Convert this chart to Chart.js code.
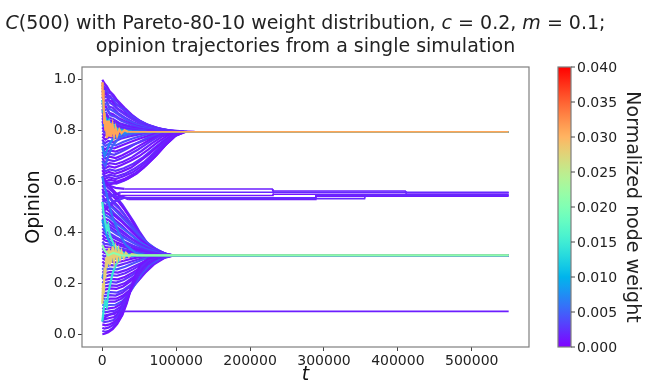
<!DOCTYPE html>
<html>
<head>
<meta charset="utf-8">
<script src="https://cdn.jsdelivr.net/npm/chart.js@4.4.1/dist/chart.umd.min.js"></script>
<style>
  html, body { margin: 0; padding: 0; background: #fff; }
  #wrap { width: 649px; height: 381px; }
</style>
</head>
<body>
<div id="wrap"><canvas id="chart" width="649" height="381"></canvas></div>
<script>
// axis ticks
const tickT = [0, 100000, 200000, 300000, 400000, 500000];
const tickOpinion = [0, 0.2, 0.4, 0.6, 0.8, 1.0];
const tickWeight = [0, 0.005, 0.01, 0.015, 0.02, 0.025, 0.03, 0.035, 0.04];
const weightMax = 0.04;

// trajectories: pairs of (t in thousands, opinion)
// nodes that end in the upper cluster (~0.795)
const groupHigh = [
  [0,1.0, 3,0.985, 6,0.975, 10,0.955, 15,0.94, 20,0.92, 30,0.89, 40,0.862, 50,0.84, 60,0.825, 75,0.81, 90,0.801, 110,0.797, 125,0.795, 550,0.795],
  [0,0.99, 2,0.975, 5,0.968, 8,0.95, 12,0.945, 18,0.92, 25,0.9, 35,0.872, 47,0.845, 60,0.824, 75,0.809, 92,0.8, 115,0.795, 550,0.795],
  [0,0.98, 2,0.96, 4,0.965, 7,0.94, 11,0.935, 16,0.91, 24,0.895, 33,0.87, 44,0.848, 56,0.828, 72,0.81, 90,0.8, 110,0.795, 550,0.795],
  [0,0.968, 3,0.95, 6,0.955, 9,0.93, 14,0.925, 20,0.9, 28,0.885, 38,0.86, 50,0.838, 64,0.82, 80,0.806, 100,0.797, 115,0.795, 550,0.795],
  [0,0.957, 2,0.94, 5,0.945, 8,0.92, 13,0.915, 19,0.89, 27,0.875, 37,0.852, 50,0.832, 65,0.815, 82,0.803, 105,0.795, 550,0.795],
  [0,0.945, 3,0.93, 7,0.935, 10,0.91, 15,0.9, 22,0.88, 32,0.86, 44,0.84, 58,0.82, 75,0.806, 95,0.798, 110,0.795, 550,0.795],
  [0,0.933, 2,0.915, 5,0.92, 9,0.895, 14,0.89, 21,0.87, 30,0.852, 42,0.833, 56,0.817, 74,0.804, 95,0.795, 550,0.795],
  [0,0.921, 3,0.9, 6,0.91, 10,0.885, 16,0.875, 24,0.858, 34,0.84, 47,0.824, 62,0.81, 82,0.8, 100,0.795, 550,0.795],
  [0,0.909, 2,0.89, 5,0.895, 9,0.87, 14,0.865, 22,0.85, 32,0.835, 45,0.82, 62,0.807, 85,0.798, 100,0.795, 550,0.795],
  [0,0.897, 3,0.88, 7,0.885, 11,0.86, 17,0.855, 25,0.84, 36,0.826, 50,0.813, 70,0.802, 95,0.795, 550,0.795],
  [0,0.885, 2,0.865, 5,0.87, 9,0.85, 15,0.845, 23,0.83, 34,0.82, 50,0.808, 72,0.8, 92,0.795, 550,0.795],
  [0,0.873, 3,0.855, 6,0.86, 10,0.84, 16,0.835, 25,0.822, 38,0.812, 55,0.803, 80,0.795, 550,0.795],
  [0,0.861, 2,0.845, 6,0.85, 11,0.83, 18,0.828, 28,0.815, 42,0.806, 62,0.799, 85,0.795, 550,0.795],
  [0,0.849, 3,0.83, 7,0.838, 12,0.82, 20,0.818, 32,0.808, 48,0.8, 70,0.795, 550,0.795],
  [0,0.837, 2,0.82, 6,0.828, 12,0.81, 20,0.812, 35,0.802, 55,0.797, 75,0.795, 550,0.795],
  [0,0.825, 3,0.81, 8,0.818, 14,0.8, 24,0.805, 40,0.798, 60,0.795, 550,0.795],
  [0,0.813, 3,0.8, 8,0.81, 15,0.795, 25,0.8, 45,0.795, 550,0.795],
  [0,0.801, 4,0.79, 9,0.8, 16,0.788, 28,0.793, 50,0.795, 550,0.795],
  [0,0.789, 3,0.78, 8,0.792, 15,0.78, 25,0.788, 45,0.795, 550,0.795],
  [0,0.777, 4,0.765, 9,0.775, 17,0.77, 28,0.78, 42,0.787, 60,0.795, 550,0.795],
  [0,0.765, 3,0.75, 8,0.76, 15,0.755, 25,0.768, 38,0.778, 55,0.788, 72,0.795, 550,0.795],
  [0,0.753, 4,0.74, 9,0.748, 18,0.742, 28,0.755, 40,0.768, 56,0.782, 75,0.795, 550,0.795],
  [0,0.741, 3,0.725, 8,0.735, 16,0.73, 26,0.742, 38,0.755, 52,0.77, 68,0.785, 85,0.795, 550,0.795],
  [0,0.729, 4,0.715, 10,0.722, 18,0.718, 29,0.73, 42,0.745, 57,0.762, 73,0.78, 88,0.795, 550,0.795],
  [0,0.717, 3,0.7, 8,0.71, 16,0.705, 24,0.715, 34,0.73, 46,0.75, 60,0.77, 75,0.787, 90,0.795, 550,0.795],
  [0,0.705, 4,0.69, 10,0.698, 18,0.692, 27,0.703, 38,0.72, 51,0.742, 65,0.765, 80,0.785, 94,0.795, 550,0.795],
  [0,0.693, 3,0.675, 8,0.685, 16,0.68, 25,0.69, 36,0.705, 48,0.725, 62,0.752, 76,0.777, 90,0.792, 100,0.795, 550,0.795],
  [0,0.681, 4,0.665, 10,0.672, 18,0.668, 28,0.678, 40,0.695, 53,0.72, 67,0.75, 81,0.777, 95,0.793, 104,0.795, 550,0.795],
  [0,0.669, 3,0.65, 9,0.66, 17,0.655, 26,0.665, 37,0.68, 50,0.7, 62,0.725, 75,0.755, 89,0.782, 102,0.795, 550,0.795],
  [0,0.657, 4,0.64, 10,0.648, 18,0.642, 29,0.652, 42,0.67, 55,0.695, 69,0.728, 83,0.762, 97,0.787, 107,0.795, 550,0.795],
  [0,0.645, 3,0.63, 9,0.638, 17,0.63, 27,0.64, 39,0.655, 51,0.68, 64,0.71, 78,0.745, 92,0.778, 105,0.795, 550,0.795],
  [0,0.633, 4,0.62, 10,0.627, 19,0.62, 30,0.63, 42,0.648, 56,0.675, 69,0.71, 83,0.75, 97,0.782, 110,0.795, 550,0.795],
  [0,0.621, 3,0.61, 9,0.617, 18,0.61, 28,0.62, 41,0.636, 54,0.662, 68,0.7, 82,0.742, 95,0.777, 108,0.795, 550,0.795],
  [0,0.609, 4,0.6, 10,0.607, 20,0.6, 31,0.612, 44,0.632, 57,0.66, 71,0.698, 85,0.742, 99,0.78, 112,0.795, 550,0.795],
  [0,0.595, 3,0.59, 9,0.597, 19,0.592, 30,0.604, 42,0.624, 56,0.655, 70,0.695, 84,0.74, 98,0.778, 110,0.795, 550,0.795],
  [0,0.58, 4,0.585, 11,0.59, 21,0.596, 34,0.61, 47,0.632, 60,0.665, 74,0.705, 87,0.748, 100,0.782, 112,0.795, 550,0.795]
];
const weightsHigh = [0.001, 0.002, 0.0015, 0.003, 0.001, 0.0025, 0.002, 0.004, 0.001, 0.0035, 0.002, 0.001,
  0.003, 0.0015, 0.002, 0.005, 0.001, 0.0025, 0.0015, 0.001, 0.002, 0.004, 0.001, 0.0015,
  0.003, 0.001, 0.002, 0.0015, 0.001, 0.0025, 0.001, 0.002, 0.0015, 0.001, 0.003, 0.001];

// nodes that end in the lower cluster (~0.31)
const groupLow = [
  [0,0.598, 3,0.59, 8,0.575, 14,0.56, 20,0.535, 27,0.51, 35,0.475, 43,0.44, 51,0.4, 60,0.362, 70,0.335, 82,0.318, 92,0.31, 550,0.31],
  [0,0.585, 4,0.57, 9,0.56, 15,0.54, 22,0.52, 30,0.49, 38,0.455, 46,0.415, 55,0.375, 65,0.345, 77,0.322, 90,0.31, 550,0.31],
  [0,0.572, 3,0.555, 8,0.548, 14,0.525, 21,0.505, 29,0.475, 37,0.44, 46,0.4, 56,0.362, 68,0.335, 80,0.317, 92,0.31, 550,0.31],
  [0,0.559, 4,0.545, 10,0.535, 16,0.512, 24,0.49, 33,0.458, 42,0.423, 52,0.385, 63,0.352, 76,0.328, 90,0.31, 550,0.31],
  [0,0.546, 3,0.53, 8,0.522, 15,0.5, 23,0.478, 32,0.448, 42,0.412, 53,0.377, 65,0.347, 78,0.325, 92,0.31, 550,0.31],
  [0,0.533, 4,0.52, 10,0.508, 17,0.488, 25,0.465, 35,0.435, 46,0.4, 58,0.366, 71,0.338, 84,0.318, 95,0.31, 550,0.31],
  [0,0.52, 3,0.505, 9,0.497, 16,0.475, 25,0.452, 35,0.422, 46,0.39, 58,0.358, 72,0.333, 86,0.315, 96,0.31, 550,0.31],
  [0,0.507, 4,0.495, 10,0.482, 18,0.462, 27,0.44, 37,0.412, 48,0.38, 61,0.35, 75,0.328, 88,0.313, 97,0.31, 550,0.31],
  [0,0.494, 3,0.48, 9,0.472, 17,0.45, 26,0.428, 36,0.4, 48,0.37, 61,0.343, 76,0.323, 92,0.31, 550,0.31],
  [0,0.481, 4,0.468, 10,0.458, 18,0.438, 28,0.415, 39,0.39, 51,0.362, 65,0.338, 80,0.32, 94,0.31, 550,0.31],
  [0,0.468, 3,0.455, 9,0.447, 17,0.427, 27,0.405, 38,0.38, 51,0.354, 65,0.333, 81,0.318, 95,0.31, 550,0.31],
  [0,0.455, 4,0.442, 10,0.432, 19,0.414, 29,0.395, 41,0.372, 54,0.349, 69,0.33, 85,0.316, 96,0.31, 550,0.31],
  [0,0.442, 3,0.43, 9,0.423, 18,0.405, 28,0.386, 40,0.364, 54,0.342, 70,0.325, 86,0.313, 95,0.31, 550,0.31],
  [0,0.429, 4,0.418, 11,0.41, 20,0.393, 31,0.376, 44,0.356, 58,0.337, 74,0.322, 90,0.31, 550,0.31],
  [0,0.416, 3,0.405, 9,0.398, 18,0.382, 29,0.366, 42,0.348, 57,0.332, 74,0.318, 88,0.31, 550,0.31],
  [0,0.403, 4,0.392, 11,0.385, 21,0.37, 33,0.355, 47,0.338, 63,0.324, 80,0.314, 92,0.31, 550,0.31],
  [0,0.39, 3,0.38, 10,0.375, 20,0.36, 32,0.347, 46,0.333, 62,0.32, 80,0.31, 550,0.31],
  [0,0.377, 4,0.368, 11,0.362, 22,0.35, 35,0.338, 50,0.326, 68,0.315, 85,0.31, 550,0.31],
  [0,0.364, 3,0.355, 10,0.352, 20,0.34, 33,0.332, 48,0.322, 66,0.313, 80,0.31, 550,0.31],
  [0,0.351, 4,0.342, 12,0.34, 23,0.33, 37,0.324, 54,0.316, 72,0.31, 550,0.31],
  [0,0.338, 3,0.33, 10,0.332, 21,0.322, 35,0.318, 52,0.313, 68,0.31, 550,0.31],
  [0,0.325, 4,0.318, 12,0.322, 24,0.314, 40,0.313, 60,0.31, 550,0.31],
  [0,0.312, 3,0.305, 10,0.312, 22,0.306, 38,0.31, 550,0.31],
  [0,0.299, 4,0.292, 11,0.3, 22,0.297, 36,0.304, 55,0.31, 550,0.31],
  [0,0.286, 3,0.278, 10,0.285, 20,0.282, 33,0.292, 48,0.302, 65,0.31, 550,0.31],
  [0,0.273, 4,0.265, 11,0.272, 21,0.27, 33,0.28, 46,0.292, 60,0.303, 75,0.31, 550,0.31],
  [0,0.26, 3,0.252, 10,0.258, 20,0.255, 31,0.265, 43,0.28, 56,0.295, 70,0.306, 82,0.31, 550,0.31],
  [0,0.247, 4,0.24, 11,0.245, 21,0.242, 32,0.252, 44,0.268, 57,0.286, 71,0.301, 85,0.31, 550,0.31],
  [0,0.234, 3,0.226, 10,0.232, 20,0.23, 31,0.24, 42,0.256, 54,0.276, 67,0.295, 82,0.308, 92,0.31, 550,0.31],
  [0,0.221, 4,0.214, 11,0.218, 21,0.216, 31,0.226, 42,0.244, 54,0.266, 67,0.289, 81,0.305, 92,0.31, 550,0.31],
  [0,0.208, 3,0.2, 10,0.206, 19,0.203, 29,0.213, 40,0.232, 51,0.256, 63,0.28, 77,0.3, 90,0.31, 550,0.31],
  [0,0.195, 4,0.188, 11,0.192, 20,0.19, 30,0.2, 40,0.22, 51,0.246, 63,0.273, 77,0.296, 90,0.31, 550,0.31],
  [0,0.182, 3,0.175, 10,0.18, 19,0.178, 28,0.188, 38,0.208, 49,0.236, 61,0.266, 75,0.292, 88,0.308, 98,0.31, 550,0.31],
  [0,0.169, 4,0.162, 11,0.166, 20,0.164, 29,0.175, 39,0.196, 49,0.226, 60,0.258, 73,0.287, 87,0.305, 98,0.31, 550,0.31],
  [0,0.156, 3,0.15, 10,0.154, 18,0.152, 27,0.163, 36,0.184, 46,0.214, 57,0.249, 70,0.282, 84,0.303, 96,0.31, 550,0.31],
  [0,0.143, 4,0.137, 11,0.14, 19,0.14, 28,0.152, 37,0.174, 47,0.205, 58,0.242, 71,0.277, 85,0.301, 97,0.31, 550,0.31],
  [0,0.13, 3,0.124, 9,0.128, 17,0.128, 26,0.14, 35,0.163, 44,0.195, 55,0.235, 68,0.273, 82,0.3, 95,0.31, 550,0.31],
  [0,0.117, 4,0.112, 10,0.115, 18,0.116, 27,0.13, 36,0.158, 44,0.195, 53,0.238, 65,0.275, 80,0.3, 94,0.31, 550,0.31],
  [0,0.104, 3,0.098, 9,0.102, 17,0.105, 25,0.118, 33,0.148, 41,0.19, 50,0.236, 61,0.274, 75,0.299, 90,0.31, 550,0.31],
  [0,0.091, 4,0.086, 10,0.09, 17,0.093, 25,0.108, 32,0.14, 40,0.185, 49,0.234, 60,0.273, 74,0.298, 90,0.31, 550,0.31],
  [0,0.078, 3,0.073, 9,0.077, 16,0.08, 23,0.095, 30,0.127, 38,0.178, 47,0.23, 57,0.27, 71,0.297, 87,0.31, 550,0.31],
  [0,0.065, 4,0.06, 10,0.064, 16,0.068, 23,0.085, 30,0.118, 37,0.168, 45,0.222, 55,0.266, 69,0.296, 85,0.31, 550,0.31],
  [0,0.052, 3,0.048, 9,0.051, 15,0.056, 21,0.072, 28,0.105, 35,0.155, 43,0.213, 53,0.262, 67,0.294, 83,0.31, 550,0.31],
  [0,0.039, 4,0.035, 10,0.039, 15,0.046, 21,0.062, 28,0.096, 35,0.148, 42,0.205, 51,0.256, 65,0.292, 82,0.31, 550,0.31],
  [0,0.026, 3,0.022, 8,0.026, 14,0.035, 20,0.052, 27,0.085, 34,0.138, 41,0.2, 50,0.255, 63,0.29, 80,0.31, 550,0.31],
  [0,0.013, 4,0.01, 9,0.014, 14,0.024, 20,0.044, 27,0.078, 33,0.128, 40,0.192, 48,0.25, 60,0.288, 78,0.31, 550,0.31],
  [0,0.0, 3,0.002, 8,0.008, 14,0.02, 20,0.04, 27,0.075, 33,0.12, 39,0.18, 45,0.235, 52,0.275, 62,0.298, 75,0.308, 88,0.31, 550,0.31]
];
const weightsLow = [0.002, 0.001, 0.0015, 0.003, 0.001, 0.004, 0.0025, 0.001, 0.0015, 0.005,
  0.001, 0.002, 0.0015, 0.004, 0.0025, 0.002, 0.001, 0.0015, 0.003, 0.001,
  0.002, 0.001, 0.0025, 0.0015, 0.001, 0.002, 0.004, 0.0015, 0.002, 0.001,
  0.0025, 0.0015, 0.001, 0.003, 0.002, 0.001, 0.0015, 0.004, 0.001, 0.002,
  0.0015, 0.001, 0.0025, 0.001, 0.0015, 0.002, 0.001];

// nodes stuck in the middle (~0.53-0.57) and the lone node at ~0.09
const groupMid = [
  [0,0.6, 8,0.585, 18,0.575, 30,0.571, 230,0.571, 231,0.563, 410,0.563, 411,0.556, 550,0.556],
  [0,0.52, 10,0.54, 25,0.558, 550,0.558],
  [0,0.48, 12,0.51, 26,0.545, 230,0.545, 231,0.55, 550,0.55],
  [0,0.5, 15,0.52, 30,0.536, 288,0.536, 289,0.546, 550,0.546],
  [0,0.62, 10,0.58, 20,0.55, 35,0.53, 288,0.53, 289,0.542, 550,0.542],
  [0,0.56, 20,0.54, 40,0.533, 355,0.533, 356,0.545, 550,0.545],
  [0,0.05, 5,0.07, 12,0.08, 22,0.09, 550,0.09]
];
const weightsMid = [0.0015, 0.002, 0.001, 0.0025, 0.001, 0.002, 0.0015];

// heavier nodes (blue, cyan, yellow, green, orange)
const heavyPaths = [
  [0,0.74, 3,0.7, 6,0.72, 10,0.75, 15,0.77, 25,0.785, 40,0.793, 60,0.795, 550,0.795],
  [0,0.62, 3,0.58, 6,0.55, 10,0.5, 15,0.45, 22,0.4, 32,0.35, 45,0.32, 60,0.31, 550,0.31],
  [0,0.45, 3,0.42, 7,0.38, 12,0.35, 20,0.33, 35,0.315, 55,0.31, 550,0.31],
  [0,0.68, 4,0.66, 8,0.7, 14,0.74, 22,0.77, 35,0.785, 55,0.795, 550,0.795],
  [0,0.88, 3,0.86, 7,0.83, 12,0.815, 20,0.805, 35,0.797, 50,0.795, 550,0.795],
  [0,0.22, 3,0.25, 7,0.27, 12,0.29, 20,0.3, 35,0.308, 50,0.31, 550,0.31],
  [0,0.92, 2,0.88, 4,0.85, 6,0.82, 9,0.84, 12,0.8, 16,0.82, 22,0.8, 30,0.797, 40,0.795, 550,0.795],
  [0,0.52, 2,0.47, 4,0.44, 6,0.41, 8,0.43, 10,0.39, 13,0.37, 16,0.35, 20,0.34, 26,0.32, 35,0.31, 550,0.31],
  [0,0.05, 2,0.1, 4,0.13, 6,0.11, 8,0.16, 11,0.2, 14,0.24, 18,0.27, 24,0.3, 35,0.31, 550,0.31],
  [0,0.12, 1,0.2, 2,0.16, 3,0.26, 4,0.22, 5,0.3, 6,0.26, 7,0.33, 8,0.28, 9,0.34, 10,0.27, 11,0.33, 12,0.28, 14,0.345, 16,0.29, 18,0.335, 20,0.295, 22,0.33, 24,0.3, 26,0.325, 29,0.3, 32,0.32, 36,0.305, 40,0.315, 48,0.31, 550,0.31],
  [0,0.35, 3,0.33, 8,0.31, 15,0.32, 25,0.31, 550,0.31],
  [0,0.99, 0.5,0.93, 1,0.96, 1.5,0.88, 2,0.91, 2.5,0.83, 3,0.87, 4,0.8, 5,0.84, 6,0.77, 7,0.82, 8,0.78, 9,0.84, 10,0.79, 11,0.83, 12,0.775, 14,0.82, 16,0.78, 18,0.81, 20,0.78, 23,0.805, 26,0.79, 30,0.802, 35,0.795, 550,0.795]
];
const heavyWeights = [0.007, 0.006, 0.008, 0.005, 0.009, 0.0065, 0.012, 0.015, 0.014, 0.028, 0.021, 0.031];

// matplotlib "rainbow" colormap
function rainbow(v) {
  const x = Math.min(1, Math.max(0, v / weightMax));
  const r = Math.min(1, Math.abs(2 * x - 0.5));
  const g = Math.sin(Math.PI * x);
  const b = Math.cos(Math.PI * x / 2);
  return `rgb(${Math.round(r * 255)},${Math.round(g * 255)},${Math.round(b * 255)})`;
}

function toPoints(path) {
  const pts = [];
  for (let i = 0; i < path.length; i += 2) {
    pts.push({ x: path[i] * 1000, y: path[i + 1] });
  }
  return pts;
}

const datasets = [];
function addGroup(paths, weights) {
  paths.forEach((p, i) => {
    // chart.js paints index 0 on top, so later nodes go to the front of the list
    datasets.unshift({
      data: toPoints(p),
      borderColor: rainbow(weights[i] || 0.001),
      borderWidth: 1.6,
      pointRadius: 0,
      showLine: true,
      tension: 0,
      // a bit thicker while the trajectories are still spreading out
      segment: { borderWidth: c => (c.p1.parsed.x <= 140000 ? 2.2 : 1.6) }
    });
  });
}
addGroup(groupHigh, weightsHigh);
addGroup(groupLow, weightsLow);
addGroup(groupMid, weightsMid);
addGroup(heavyPaths, heavyWeights);

const FONT = "'DejaVu Sans', sans-serif";

// frame, colorbar and title
const extras = {
  id: 'extras',
  afterDraw(chart) {
    const ctx = chart.ctx;
    const a = chart.chartArea;
    ctx.save();
    ctx.strokeStyle = '#7f7f7f';
    ctx.lineWidth = 1.2;
    ctx.strokeRect(a.left, a.top, a.right - a.left, a.bottom - a.top);

    // colorbar
    const cbL = a.right + 29, cbW = 13;
    const grad = ctx.createLinearGradient(0, a.bottom, 0, a.top);
    for (let i = 0; i <= 40; i++) {
      grad.addColorStop(i / 40, rainbow(weightMax * i / 40));
    }
    ctx.fillStyle = grad;
    ctx.fillRect(cbL, a.top, cbW, a.bottom - a.top);
    ctx.strokeRect(cbL, a.top, cbW, a.bottom - a.top);
    ctx.fillStyle = '#222';
    ctx.strokeStyle = '#444';
    ctx.lineWidth = 1;
    ctx.font = '14px ' + FONT;
    ctx.textAlign = 'left';
    ctx.textBaseline = 'middle';
    tickWeight.forEach(v => {
      const y = a.bottom - (v / weightMax) * (a.bottom - a.top);
      ctx.beginPath();
      ctx.moveTo(cbL + cbW, y);
      ctx.lineTo(cbL + cbW + 4, y);
      ctx.stroke();
      ctx.fillText(v.toFixed(3), cbL + cbW + 6, y + 1);
    });
    ctx.save();
    ctx.translate(632, (a.top + a.bottom) / 2);
    ctx.rotate(Math.PI / 2);
    ctx.textAlign = 'center';
    ctx.font = '19px ' + FONT;
    ctx.fillText('Normalized node weight', 0, 0);
    ctx.restore();

    // title with italic math symbols
    const cx = (a.left + a.right) / 2;
    const line1 = [
      ['C', true], ['(500) with Pareto-80-10 weight distribution, ', false],
      ['c', true], [' = 0.2, ', false], ['m', true], [' = 0.1;', false]
    ];
    const fontOf = it => (it ? 'italic ' : '') + '19px ' + FONT;
    let w = 0;
    line1.forEach(([s, it]) => { ctx.font = fontOf(it); w += ctx.measureText(s).width; });
    let x = cx - w / 2;
    ctx.textAlign = 'left';
    ctx.textBaseline = 'alphabetic';
    line1.forEach(([s, it]) => {
      ctx.font = fontOf(it);
      ctx.fillText(s, x, 29);
      x += ctx.measureText(s).width;
    });
    ctx.font = fontOf(false);
    ctx.textAlign = 'center';
    ctx.fillText('opinion trajectories from a single simulation', cx, 52);
    ctx.restore();
  }
};

new Chart(document.getElementById('chart'), {
  type: 'scatter',
  data: { datasets },
  options: {
    responsive: false,
    animation: false,
    devicePixelRatio: 1,
    layout: { padding: { top: 67, right: 120, bottom: 0, left: 0 } },
    plugins: { legend: { display: false }, tooltip: { enabled: false }, title: { display: false } },
    scales: {
      x: {
        type: 'linear',
        min: -27500,
        max: 577500,
        afterBuildTicks: s => { s.ticks = tickT.map(v => ({ value: v })); },
        afterFit: s => { s.height = 34; },
        ticks: { callback: v => String(v), font: { size: 14, family: FONT }, color: '#222', padding: 2, maxRotation: 0, autoSkip: false },
        grid: { drawOnChartArea: false, drawTicks: true, tickLength: 4, color: '#444' },
        border: { display: false },
        title: { display: true, text: 't', color: '#111', font: { size: 19, style: 'italic', family: FONT, lineHeight: 0.6 }, padding: { top: 0, bottom: 0 } }
      },
      y: {
        min: -0.05,
        max: 1.05,
        afterBuildTicks: s => { s.ticks = tickOpinion.map(v => ({ value: v })); },
        afterFit: s => { s.width = 82; },
        ticks: { callback: v => v.toFixed(1), font: { size: 14, family: FONT }, color: '#222', padding: 2, autoSkip: false },
        grid: { drawOnChartArea: false, drawTicks: true, tickLength: 4, color: '#444' },
        border: { display: false },
        title: { display: true, text: 'Opinion', color: '#111', font: { size: 19, family: FONT }, padding: { top: 23, bottom: 0 } }
      }
    }
  },
  plugins: [extras]
});
</script>
</body>
</html>
